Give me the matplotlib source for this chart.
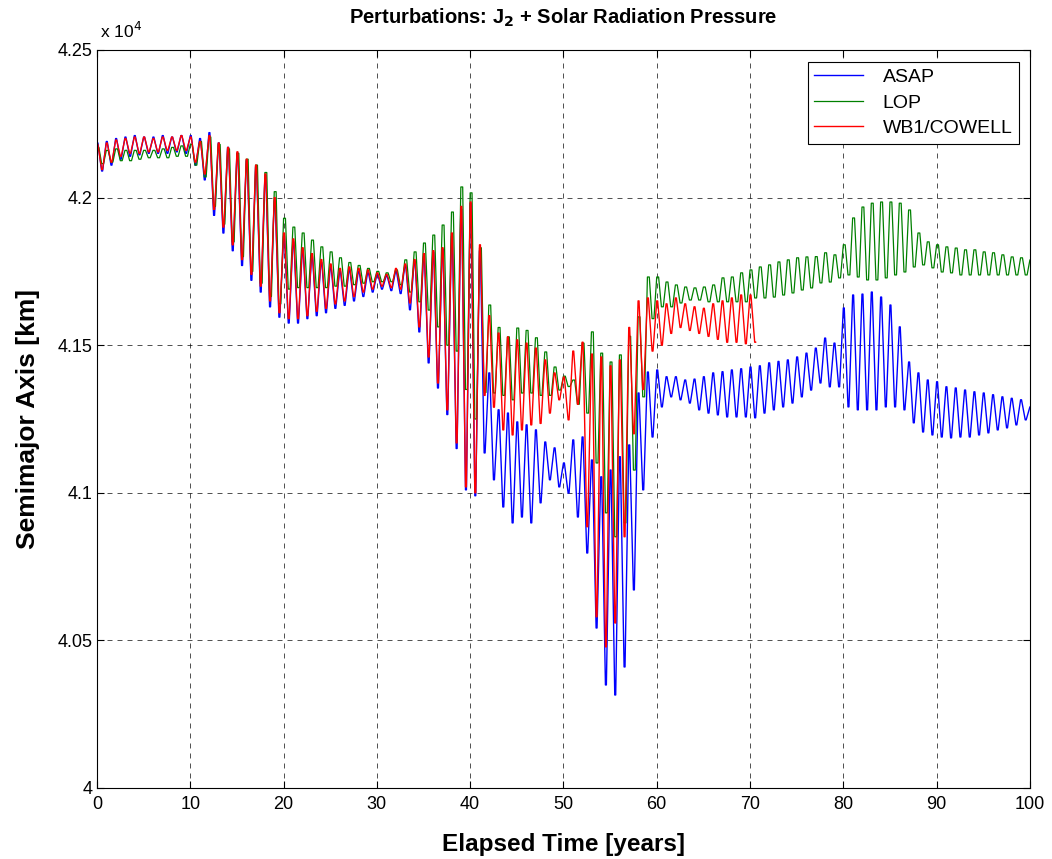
import numpy as np
import matplotlib
matplotlib.use("Agg")
import matplotlib.pyplot as plt
from matplotlib.ticker import FuncFormatter, MultipleLocator

plt.rcParams['font.family'] = ['Liberation Sans', 'DejaVu Sans']

# yearly peak / trough of each oscillation cycle, semimajor axis in km
asap_hi = [42185, 42190, 42200, 42205, 42210, 42205, 42205, 42210, 42205, 42210, 42210, 42200,
           42220, 42185, 42170, 42150, 42125, 42105, 42075, 41990,
           41870, 41850, 41820, 41800, 41780, 41765, 41750, 41755, 41750, 41745,
           41740, 41735, 41750, 41770, 41785, 41800, 41815, 41825, 41870, 41960,
           41980, 41820, 41406, 41281, 41270, 41240, 41230, 41213, 41172, 41152,
           41101, 41179, 41189, 41111, 41054, 41077, 41122, 41162, 41338, 41409,
           41416, 41393, 41393, 41382, 41385, 41393, 41406, 41410, 41416, 41420,
           41426, 41430, 41440, 41445, 41450, 41460, 41473, 41490, 41524, 41507,
           41626, 41670, 41673, 41680, 41663, 41636, 41562, 41443, 41406, 41382,
           41376, 41359, 41355, 41348, 41342, 41338, 41332, 41325, 41320, 41315, 41291]
asap_lo = [42090, 42110, 42130, 42140, 42145, 42150, 42150, 42150, 42155, 42150, 42110, 42060,
           41940, 41880, 41820, 41770, 41720, 41680, 41630, 41595,
           41575, 41575, 41590, 41600, 41610, 41625, 41635, 41650, 41665, 41680,
           41690, 41685, 41675, 41620, 41545, 41440, 41355, 41265, 41150, 41010,
           40990, 41135, 41044, 40952, 40898, 40918, 40898, 40966, 41044, 41020,
           40999, 40918, 40796, 40542, 40349, 40315, 40410, 40671, 41010, 41189,
           41291, 41325, 41315, 41304, 41281, 41270, 41264, 41257, 41257, 41257,
           41254, 41270, 41281, 41291, 41304, 41325, 41348, 41372, 41359, 41359,
           41291, 41281, 41281, 41281, 41291, 41291, 41281, 41237, 41206, 41196,
           41189, 41186, 41189, 41189, 41196, 41203, 41213, 41220, 41230, 41247, 41260]

lop_hi = [42170, 42160, 42165, 42160, 42160, 42160, 42160, 42165, 42170, 42175, 42180, 42190,
          42205, 42180, 42165, 42150, 42130, 42110, 42085, 42020,
          41930, 41900, 41880, 41856, 41833, 41816, 41796, 41780, 41770, 41760,
          41750, 41745, 41755, 41789, 41816, 41846, 41873, 41907, 41951, 42036,
          42016, 41830, 41636, 41560, 41528, 41558, 41550, 41525, 41477, 41426,
          41395, 41382, 41507, 41545, 41473, 41443, 41467, 41530, 41596, 41731,
          41731, 41714, 41704, 41697, 41694, 41697, 41704, 41728, 41731, 41745,
          41755, 41765, 41772, 41782, 41789, 41796, 41799, 41800, 41813, 41806,
          41840, 41931, 41968, 41981, 41985, 41985, 41981, 41958, 41880, 41850,
          41840, 41833, 41829, 41823, 41823, 41816, 41813, 41806, 41799, 41796, 41789]
lop_lo = [42115, 42120, 42125, 42125, 42130, 42135, 42135, 42135, 42140, 42140, 42110, 42070,
          41970, 41910, 41850, 41800, 41750, 41710, 41665, 41640,
          41690, 41695, 41695, 41695, 41695, 41700, 41700, 41705, 41710, 41715,
          41715, 41715, 41705, 41680, 41647, 41619, 41562, 41500, 41480, 41350,
          41250, 41340, 41338, 41330, 41315, 41338, 41338, 41330, 41330, 41348,
          41360, 41300, 41270, 41101, 40932, 40851, 40898, 41077, 41325, 41590,
          41630, 41630, 41643, 41653, 41653, 41647, 41647, 41647, 41647, 41647,
          41660, 41660, 41663, 41670, 41677, 41687, 41694, 41711, 41714, 41728,
          41738, 41731, 41721, 41721, 41728, 41738, 41748, 41765, 41772, 41762,
          41748, 41745, 41738, 41738, 41738, 41738, 41738, 41738, 41738, 41738, 41738]

wb1_hi = [42180, 42185, 42195, 42200, 42205, 42205, 42200, 42205, 42205, 42210, 42205, 42190,
          42210, 42185, 42170, 42155, 42130, 42110, 42080, 42000,
          41880, 41860, 41830, 41810, 41790, 41775, 41760, 41765, 41760, 41755,
          41745, 41740, 41760, 41775, 41790, 41810, 41820, 41830, 41880, 41970,
          41985, 41840, 41600, 41541, 41528, 41518, 41507, 41490, 41450, 41406,
          41392, 41480, 41510, 41470, 41460, 41430, 41450, 41560, 41650, 41660,
          41650, 41640, 41660, 41640, 41630, 41625, 41640, 41650, 41660, 41670, 41670]
wb1_lo = [42095, 42120, 42140, 42150, 42150, 42155, 42155, 42160, 42160, 42160, 42120, 42080,
          41960, 41900, 41840, 41790, 41740, 41700, 41650, 41610,
          41590, 41590, 41600, 41615, 41625, 41640, 41650, 41665, 41680, 41690,
          41700, 41695, 41690, 41643, 41562, 41460, 41372, 41281, 41169, 41020,
          41000, 41330, 41290, 41213, 41196, 41213, 41230, 41235, 41270, 41315,
          41247, 41300, 40885, 40580, 40478, 40559, 40851, 41200, 41350, 41480,
          41500, 41540, 41560, 41550, 41540, 41530, 41520, 41510, 41510, 41505, 41510]
wb1_end = 70.7


def cycles(hi, lo, hold):
    # one cycle per year: peak held for `hold` years, then the trough
    t, v = [], []
    for k, (p, q) in enumerate(zip(hi, lo)):
        t += [k, k + hold, k + 0.5, k + 0.5 + hold]
        v += [p, p, q, q]
    return np.array(t), np.array(v) / 1e4


fig = plt.figure(figsize=(10.52, 8.59), dpi=100)
ax = fig.add_axes([0.0922, 0.0827, 0.8868, 0.8591])

t, v = cycles(asap_hi, asap_lo, 0.1)
ax.plot(t, v, color='#0000ff', lw=1.0, label='ASAP')
t, v = cycles(lop_hi, lop_lo, 0.2)
ax.plot(t, v, color='#008000', lw=0.9, label='LOP')
t, v = cycles(wb1_hi, wb1_lo, 0.1)
keep = t <= wb1_end
ax.plot(t[keep], v[keep], color='#ff0000', lw=1.0, label='WB1/COWELL')

ax.set_xlim(0, 100)
ax.set_ylim(4.0, 4.25)
ax.xaxis.set_major_locator(MultipleLocator(10))
ax.yaxis.set_major_locator(MultipleLocator(0.05))
ax.yaxis.set_major_formatter(FuncFormatter(lambda y, p: '%g' % round(y, 2)))
ax.tick_params(direction='in', top=True, right=True, labelsize=13, length=5, width=0.8)
ax.tick_params(axis='x', pad=6)
ax.grid(True, color='black', linestyle=(0, (6, 6)), lw=0.6, alpha=0.8)
for s in ax.spines.values():
    s.set_linewidth(0.8)

ax.set_xlabel('Elapsed Time [years]', fontsize=17.5, fontweight='bold', labelpad=14)
ax.set_ylabel('Semimajor Axis [km]', fontsize=19, fontweight='bold', labelpad=12)
ax.set_title('Perturbations: J$_\\mathbf{2}$ + Solar Radiation Pressure', fontsize=14.5,
             fontweight='bold', pad=19)
ax.text(0.003, 1.012, 'x 10$^4$', transform=ax.transAxes, fontsize=12.5, va='bottom', ha='left')

leg = ax.legend(loc='upper right', bbox_to_anchor=(0.9885, 0.984), borderaxespad=0,
                fontsize=14, fancybox=False, framealpha=1, edgecolor='black',
                handlelength=2.5, handletextpad=1.0, borderpad=0.35, labelspacing=0.4)
leg.get_frame().set_linewidth(0.8)

fig.savefig('out.png', dpi=100)
